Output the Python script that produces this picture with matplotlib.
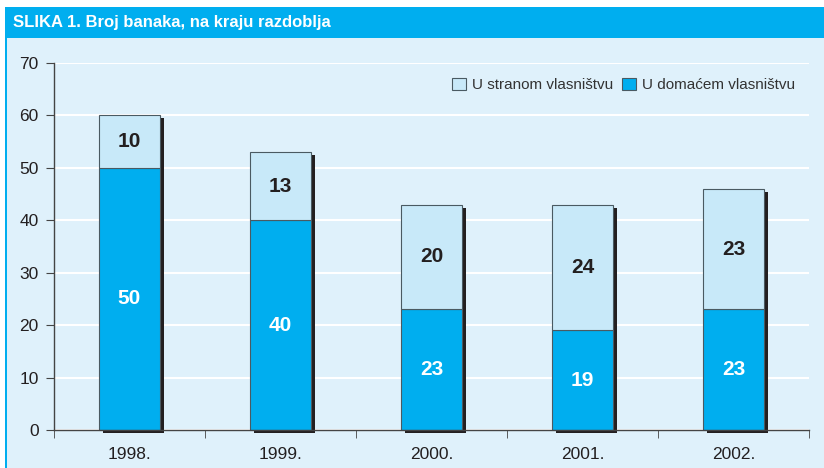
import matplotlib
matplotlib.use('Agg')
import matplotlib.pyplot as plt
import matplotlib.transforms as mtransforms
from matplotlib.patches import Rectangle

years = ['1998.', '1999.', '2000.', '2001.', '2002.']
domestic = [50, 40, 23, 19, 23]
foreign = [10, 13, 20, 24, 23]

BLUE = '#00AEEF'
LIGHT = '#C8E9F9'
BG = '#DFF1FB'
DARK = '#231F20'

plt.rcParams.update({
    'font.family': ['Liberation Sans', 'DejaVu Sans'],
    'font.size': 12,
})

fig = plt.figure(figsize=(8.24, 4.68), dpi=100)
fig.patch.set_facecolor('white')

# background panel, frame and header strip
fig.patches.append(Rectangle((5 / 824, 0), 1, 461 / 468, transform=fig.transFigure,
                             facecolor=BG, edgecolor='none', zorder=0))
fig.patches.append(Rectangle((5 / 824, 0), 2 / 824, 461 / 468, transform=fig.transFigure,
                             facecolor=BLUE, edgecolor='none', zorder=1))
fig.patches.append(Rectangle((5 / 824, 430 / 468), 1, 31 / 468, transform=fig.transFigure,
                             facecolor=BLUE, edgecolor='none', zorder=1))
fig.text(13 / 824, 445 / 468, 'SLIKA 1. Broj banaka, na kraju razdoblja', color='white',
         fontsize=12, fontweight='bold', va='center', ha='left')

ax = fig.add_axes([54 / 824, 38 / 468, 755 / 824, 367 / 468])
ax.set_zorder(5)
ax.set_facecolor('none')

x = list(range(len(years)))
totals = [d + f for d, f in zip(domestic, foreign)]
width = 0.4

shadow = ax.transData + mtransforms.ScaledTranslation(4 / 100, -3 / 100, fig.dpi_scale_trans)
ax.bar(x, totals, width, color=DARK, transform=shadow, clip_on=False, zorder=2)
ax.bar(x, domestic, width, color=BLUE, edgecolor='#4A5A62', linewidth=0.8,
       label='U domaćem vlasništvu', zorder=3)
ax.bar(x, foreign, width, bottom=domestic, color=LIGHT, edgecolor='#4A5A62', linewidth=0.8,
       label='U stranom vlasništvu', zorder=3)

for i in x:
    ax.text(i, domestic[i] / 2, str(domestic[i]), ha='center', va='center',
            color='white', fontsize=15, fontweight='bold', zorder=4)
    ax.text(i, domestic[i] + foreign[i] / 2, str(foreign[i]), ha='center', va='center',
            color=DARK, fontsize=15, fontweight='bold', zorder=4)

ax.set_xlim(-0.5, len(years) - 0.5)
ax.set_ylim(0, 70)
ax.set_yticks(range(0, 71, 10))
ax.set_xticks(x)
ax.set_xticklabels(years)
ax.set_xticks([i + 0.5 for i in range(-1, len(years))], minor=True)
ax.tick_params(axis='x', which='major', length=0, pad=12, labelsize=12.5, colors=DARK)
ax.tick_params(axis='x', which='minor', length=6, direction='out', color='#444444')
ax.tick_params(axis='y', length=6, direction='out', color='#444444', labelsize=12.5,
               labelcolor=DARK, pad=5)
ax.grid(axis='y', color='white', linewidth=1.5, zorder=0)
ax.set_axisbelow(True)
for s in ['top', 'right']:
    ax.spines[s].set_visible(False)
for s in ['left', 'bottom']:
    ax.spines[s].set_color('#444444')
    ax.spines[s].set_linewidth(1.0)
    ax.spines[s].set_zorder(5)

handles, labels = ax.get_legend_handles_labels()
leg = ax.legend(handles[::-1], labels[::-1], loc='center right', bbox_to_anchor=(1.0, 0.94),
                ncol=2, frameon=False, fontsize=11, handlelength=0.9, handleheight=0.9,
                columnspacing=0.6, handletextpad=0.4)
for t in leg.get_texts():
    t.set_color('#333333')

fig.savefig('out.png', dpi=100, facecolor=fig.get_facecolor())
